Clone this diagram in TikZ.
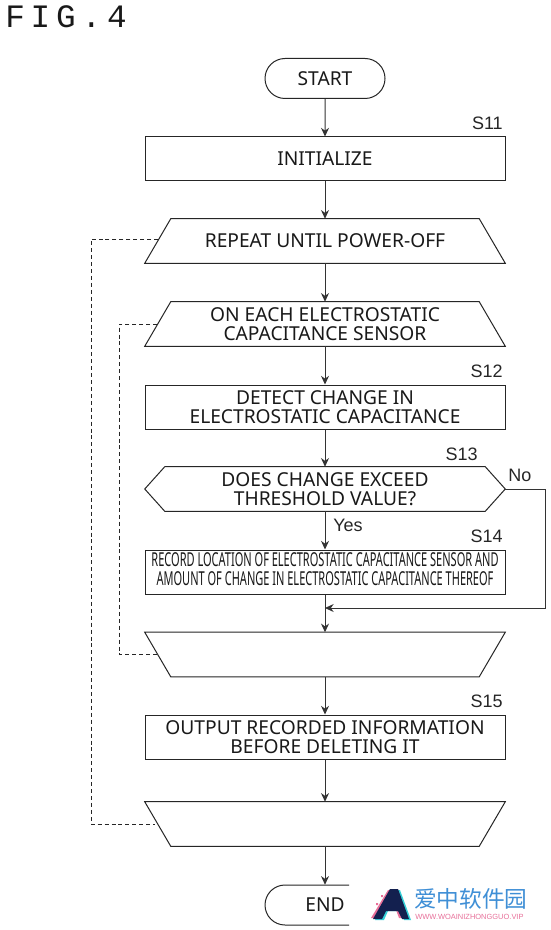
\documentclass[tikz,border=0pt]{standalone}
\usepackage{fontspec}
\setmainfont{Noto Sans}
\newfontfamily\labelfont{Liberation Sans}
\newfontfamily\figfont[LetterSpace=18]{Liberation Mono}
\newfontfamily\cjk{Noto Sans CJK SC}
\usetikzlibrary{arrows.meta,shapes.misc}
\definecolor{wmblue}{HTML}{3F8FD6}
\definecolor{wmpink}{HTML}{E8709A}
\definecolor{wmnavy}{HTML}{13204F}
\definecolor{wmcyan}{HTML}{35D0D8}
\newcommand{\mainsize}{\fontsize{14.4pt}{14.7pt}\selectfont}
\tikzset{
  base/.style={inner sep=0pt,align=center,font=\mainsize,text=black!90},
  outline/.style={draw=black!85,line width=0.75pt},
  procbox/.style={base,outline,rectangle,minimum width=270pt,minimum height=33pt},
  shaped/.style={base,rectangle,minimum width=270pt,minimum height=33pt},
  term/.style={base,outline,rounded rectangle,minimum width=90pt,minimum height=30pt},
  flow/.style={draw=black!80,line width=0.75pt,-{Stealth[length=6.5pt,width=6pt]}},
  loopline/.style={draw=black!85,line width=0.55pt,dash pattern=on 3pt off 2.2pt},
  steplabel/.style={font=\labelfont\fontsize{13.5pt}{15pt}\selectfont,text=black!85,inner sep=0pt,anchor=east},
  edgelabel/.style={font=\labelfont\fontsize{13.5pt}{15pt}\selectfont,text=black!85,inner sep=0pt},
}
% outline of a loop-start (wide at the bottom) or loop-end (wide at the top) node
\newcommand{\loopstartshape}[1]{\draw[outline] ([xshift=19.5pt]#1.north west) -- ([xshift=-19.5pt]#1.north east) -- (#1.south east) -- (#1.south west) -- cycle;}
\newcommand{\loopendshape}[1]{\draw[outline] (#1.north west) -- (#1.north east) -- ([xshift=-19.5pt]#1.south east) -- ([xshift=19.5pt]#1.south west) -- cycle;}
\newcommand{\decideshape}[1]{\draw[outline] ([xshift=15pt]#1.north west) -- ([xshift=-15pt]#1.north east) -- (#1.east) -- ([xshift=-15pt]#1.south east) -- ([xshift=15pt]#1.south west) -- (#1.west) -- cycle;}
\begin{document}
\begin{tikzpicture}[x=0.75pt,y=-0.75pt]
\useasboundingbox (0,0) rectangle (550,930);
\fill[white] (0,0) rectangle (550,930);
\node[font=\figfont\fontsize{24.5pt}{26pt}\selectfont,anchor=west,inner sep=0pt,text=black!90] (fig) at (5,17) {FIG.4};
\node[term] (start) at (325,78.5) {START};
\node[procbox] (init) at (325,159) {INITIALIZE};
\node[shaped] (rep) at (325,241) {REPEAT UNTIL POWER-OFF};
\loopstartshape{rep}
\node[shaped] (each) at (325,324) {ON EACH ELECTROSTATIC\\CAPACITANCE SENSOR};
\loopstartshape{each}
\node[procbox] (detect) at (325,407) {DETECT CHANGE IN\\ELECTROSTATIC CAPACITANCE};
\node[shaped] (dec) at (325,489) {DOES CHANGE EXCEED\\THRESHOLD VALUE?};
\decideshape{dec}
\node[procbox] (rec) at (325,572) {\scalebox{0.574}[1]{\begin{tabular}{@{}c@{}}RECORD LOCATION OF ELECTROSTATIC CAPACITANCE SENSOR AND\\AMOUNT OF CHANGE IN ELECTROSTATIC CAPACITANCE THEREOF\end{tabular}}};
\node[shaped] (eachend) at (325,654.5) {};
\loopendshape{eachend}
\node[procbox] (out) at (325,737) {OUTPUT RECORDED INFORMATION\\BEFORE DELETING IT};
\node[shaped] (repend) at (325,824) {};
\loopendshape{repend}
\node[base,minimum height=30pt,minimum width=40pt] (end) at (325,905) {END};
\draw[outline] (349,885) -- (285,885) arc[start angle=-90,end angle=-270,radius=20] -- (349,925);
\coordinate (merge) at (325,608);
\coordinate (nob) at (545,489);
\coordinate (noc) at (545,608);
\coordinate (r0) at (158,239);
\coordinate (r1) at (91,239);
\coordinate (r2) at (91,824);
\coordinate (r3) at (155,824);
\coordinate (e0) at (157,324);
\coordinate (e1) at (119,324);
\coordinate (e2) at (119,654);
\coordinate (e3) at (157,654);
\draw[flow] (start) -- (init);
\draw[flow] (init) -- (rep);
\draw[flow] (rep) -- (each);
\draw[flow] (each) -- (detect);
\draw[flow] (detect) -- (dec);
\draw[flow] (dec) -- (rec);
\draw[flow] (rec) -- (eachend);
\draw[flow] (eachend) -- (out);
\draw[flow] (out) -- (repend);
\draw[flow] (repend) -- (end);
\draw[flow] (dec.east) -- (nob) -- (noc) -- (merge);
\draw[loopline] (r0) -- (r1) -- (r2) -- (r3);
\draw[loopline] (e0) -- (e1) -- (e2) -- (e3);
\node[steplabel] (s11) at (503,123) {S11};
\node[steplabel] (s12) at (503,371) {S12};
\node[steplabel] (s13) at (478,454) {S13};
\node[steplabel] (s14) at (503,536) {S14};
\node[steplabel] (s15) at (503,701) {S15};
\node[edgelabel,anchor=west] (no) at (508,475) {No};
\node[edgelabel,anchor=west] (yes) at (333,525) {Yes};
\node[font=\cjk\fontsize{17pt}{20pt}\selectfont,text=wmblue,anchor=west,inner sep=0pt] (wm) at (414,899) {爱中软件园};
\node[font=\labelfont\fontsize{5.6pt}{6pt}\selectfont,text=wmpink,anchor=west,inner sep=0pt] (wmu) at (415,917) {WWW.WOAINIZHONGGUO.VIP};
\fill[wmpink] (371,918) -- (388,890) -- (396,890) -- (406,918) -- (399,918) -- (396,910) -- (385,910) -- (381,918) -- cycle;
\fill[wmcyan] (375,920) -- (392,890) -- (400,890) -- (411,920) -- (404,920) -- (400,911) -- (388,911) -- (384,920) -- cycle;
\fill[wmnavy] (373,919) -- (390,889) -- (398,889) -- (409,919) -- (402,919) -- (398,911) -- (386,911) -- (382,919) -- cycle;
\fill[wmpink] (381,895) rectangle (383,897) (376,903) rectangle (378,905);
\end{tikzpicture}
\end{document}
